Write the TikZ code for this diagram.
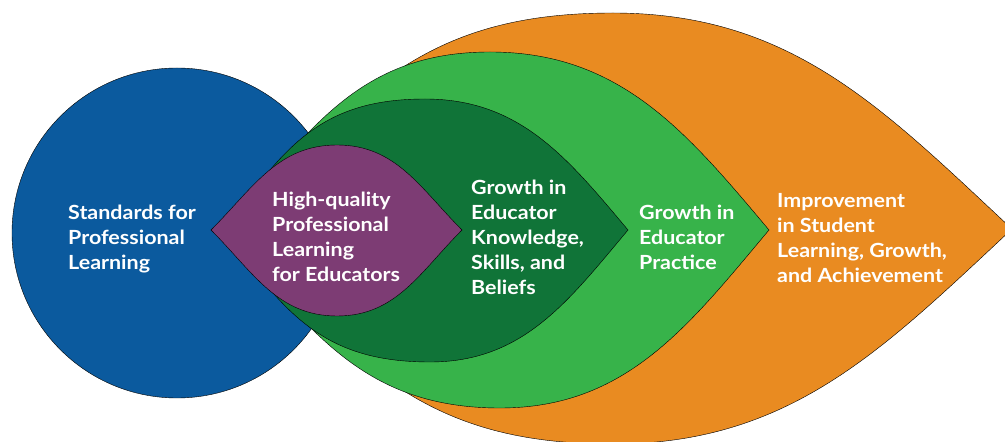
\documentclass[tikz,border=0pt]{standalone}
\usepackage{fontspec}
\newfontfamily\labelfont{Lato}[FakeStretch=1.1]
\definecolor{stdblue}{RGB}{11,90,158}
\definecolor{hqpurple}{RGB}{125,60,116}
\definecolor{darkleaf}{RGB}{16,116,56}
\definecolor{greenleaf}{RGB}{55,179,74}
\definecolor{orangeleaf}{RGB}{233,139,33}
\tikzset{
	leaf/.style={draw=black,line width=0.4pt},
	leaftext/.style={text=white,align=left,anchor=north west,inner sep=0pt,
		font=\labelfont\bfseries\fontsize{19.5}{25}\selectfont}
}
\begin{document}
\begin{tikzpicture}[x=1pt,y=1pt]
	\useasboundingbox (0,0) rectangle (1005,442);
	\fill[white] (0,0) rectangle (1005,442);
	% standards circle
	\draw[leaf,fill=stdblue] (177,209) circle (165);
	% outcome leaves, outer to inner
	\draw[leaf,fill=orangeleaf] (225,213) to[out=45,in=180,looseness=1.1] (613,429) to[out=0,in=137] (1012,213)
		to[out=223,in=0] (613,-2) to[out=180,in=-45,looseness=1.1] (225,213) -- cycle;
	\draw[leaf,fill=greenleaf] (225,212) to[out=50,in=180,looseness=1.05] (490,390) to[out=0,in=130] (769,212)
		to[out=230,in=0] (500,34) to[out=180,in=-50,looseness=1.05] (225,212) -- cycle;
	\draw[leaf,fill=darkleaf] (225,212) to[out=55,in=180,looseness=1.1] (425,343) to[out=0,in=130] (628,212)
		to[out=230,in=0] (430,80) to[out=180,in=-55,looseness=1.1] (225,212) -- cycle;
	\draw[leaf,fill=hqpurple] (211,212) to[out=45,in=180] (337,297) to[out=0,in=135] (462,212)
		to[out=225,in=0] (337,126) to[out=180,in=-45] (211,212) -- cycle;
	% labels
	\node[leaftext] (standards) at (68,237) {Standards for\\Professional\\Learning};
	\node[leaftext] (hqpl) at (272,250) {High-quality\\Professional\\Learning\\for Educators};
	\node[leaftext] (knowledge) at (471,262) {Growth in\\Educator\\Knowledge,\\Skills, and\\Beliefs};
	\node[leaftext] (practice) at (639,237) {Growth in\\Educator\\Practice};
	\node[leaftext] (improvement) at (777,249) {Improvement\\in Student\\Learning, Growth,\\and Achievement};
\end{tikzpicture}
\end{document}
